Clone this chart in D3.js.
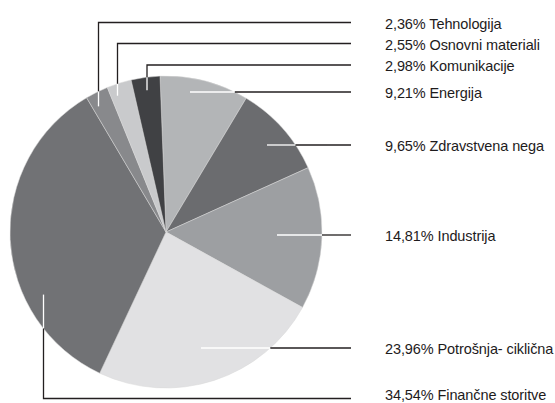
<!DOCTYPE html>
<html>
<head>
<meta charset="utf-8">
<script src="https://cdn.jsdelivr.net/npm/d3@7"></script>
<style>
  body { margin: 0; background: #fff; }
  svg { display: block; }
  text { font-family: "Liberation Sans", Arial, sans-serif; font-size: 14.5px; fill: #1e1b1c; letter-spacing: -0.1px; }
</style>
</head>
<body>
<script>
// sectors, clockwise from 12 o'clock
var sectors = ['Energija', 'Zdravstvena nega', 'Industrija', 'Potrošnja- ciklična',
  'Finančne storitve', 'Tehnologija', 'Osnovni materiali', 'Komunikacije'];
var shares = [9.21, 9.65, 14.81, 23.96, 34.54, 2.36, 2.55, 2.98];
var shareLabels = ['9,21%', '9,65%', '14,81%', '23,96%', '34,54%', '2,36%', '2,55%', '2,98%'];
var greys = ['#b3b5b7', '#6b6c6f', '#9d9fa2', '#e1e1e3', '#717275', '#88898c', '#c9cacc', '#404144'];

var width = 555, height = 403;
var cx = 166, cy = 232, r = 156;
var lineEnd = 351, textX = 385;
var rot = -2.2 * Math.PI / 180; // pie is turned slightly anticlockwise

// leader layout: 'h' = horizontal line at y, white part starts at x0
// 'v' = vertical line at x, white part of length len, then turns to label row y
var leaders = {
  'Energija':            { type: 'h', y: 92,  x0: 190 },
  'Zdravstvena nega':    { type: 'h', y: 145, x0: 267 },
  'Industrija':          { type: 'h', y: 235, x0: 277 },
  'Potrošnja- ciklična': { type: 'h', y: 348, x0: 201 },
  'Finančne storitve':   { type: 'v', x: 43.5, len: 34, y: 398.5, ty: 400 },
  'Tehnologija':         { type: 'v', x: 98.5, len: 15, y: 22.5 },
  'Osnovni materiali':   { type: 'v', x: 117.5, len: 12, y: 43.5 },
  'Komunikacije':        { type: 'v', x: 147, len: 13, y: 65 }
};

var svg = d3.select('body').append('svg')
  .attr('width', width)
  .attr('height', height);

var pie = d3.pie().sort(null)
  .startAngle(rot).endAngle(rot + 2 * Math.PI)
  .value(function (d) { return d.v; });
var arc = d3.arc().innerRadius(0).outerRadius(r);

var rows = sectors.map(function (s, i) {
  return { name: s, v: shares[i], label: shareLabels[i], color: greys[i] };
});

var g = svg.append('g').attr('transform', 'translate(' + cx + ',' + cy + ')');
g.selectAll('path')
  .data(pie(rows))
  .enter().append('path')
  .attr('d', arc)
  .attr('fill', function (d) { return d.data.color; })
  .attr('stroke', '#d8d8d8')
  .attr('stroke-width', 0.5);

// leader lines and labels
rows.forEach(function (d) {
  var L = leaders[d.name];
  var ax, ay;
  if (L.type === 'h') {
    // where the row meets the circle
    ax = cx + Math.sqrt(r * r - (L.y - cy) * (L.y - cy));
    svg.append('line').attr('x1', L.x0).attr('x2', ax).attr('y1', L.y).attr('y2', L.y)
      .attr('stroke', '#fff').attr('stroke-width', 1.3);
    svg.append('line').attr('x1', ax).attr('x2', lineEnd).attr('y1', L.y).attr('y2', L.y)
      .attr('stroke', '#231f20').attr('stroke-width', 1.3);
  } else {
    var h = Math.sqrt(r * r - (L.x - cx) * (L.x - cx));
    var up = L.y < cy;
    ay = up ? cy - h : cy + h;
    var inner = up ? ay + L.len : ay - L.len;
    svg.append('line').attr('x1', L.x).attr('x2', L.x).attr('y1', inner).attr('y2', ay)
      .attr('stroke', '#fff').attr('stroke-width', 1.3);
    svg.append('path')
      .attr('d', 'M' + L.x + ',' + ay + 'V' + L.y + 'H' + lineEnd)
      .attr('fill', 'none').attr('stroke', '#231f20').attr('stroke-width', 1.3);
  }
  var t = svg.append('text')
    .attr('x', textX)
    .text(d.label + ' ' + d.name);
  if (L.ty) t.attr('y', L.ty);
  else t.attr('y', L.y).attr('dy', '0.42em');
});
</script>
</body>
</html>
